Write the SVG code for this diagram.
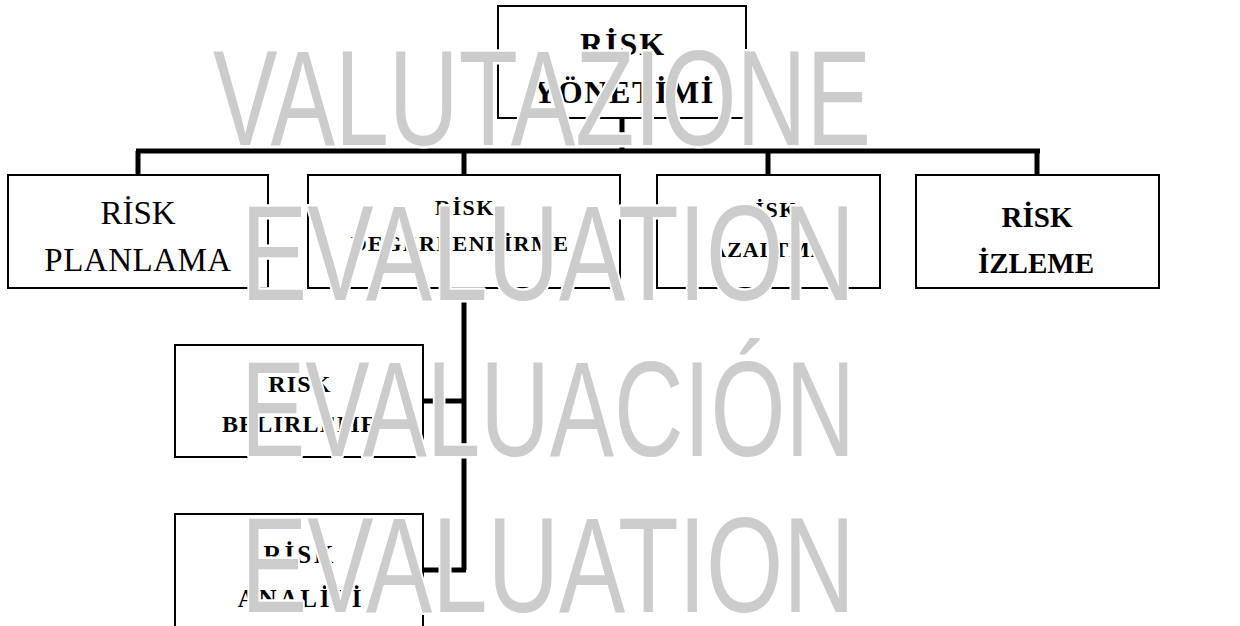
<svg xmlns="http://www.w3.org/2000/svg" width="1240" height="626" viewBox="0 0 1240 626">
<style>
.box{fill:#fff;stroke:#000;stroke-width:2}
.conn{fill:none;stroke:#000;stroke-width:5}
.t{font-family:"Liberation Serif","Times New Roman",serif;fill:#000;text-anchor:middle}
.b{font-weight:bold}
.wm{font-family:"Liberation Sans",Arial,sans-serif;font-size:135px;fill:#cccccc;stroke:#fff;stroke-width:5;paint-order:stroke;stroke-linejoin:round}
</style>
<rect width="1240" height="626" fill="#fff"/>
<g id="connectors">
<path class="conn" d="M622 118V151M136 151H1040M138 151V175M464 151V175M768 151V175M1037 151V175"/>
<path class="conn" d="M464 288V570M423 401H464M423 570H466"/>
</g>
<g id="n-top">
<rect class="box" x="498" y="6" width="248" height="112"/>
<text class="t b" x="623" y="55" font-size="32" letter-spacing="2">RİSK</text>
<text class="t b" x="624" y="103" font-size="32" letter-spacing="1.6">YÖNETİMİ</text>
</g>
<g id="n-planlama">
<rect class="box" x="8" y="175" width="260" height="113"/>
<text class="t" x="138" y="224" font-size="33">RİSK</text>
<text class="t" x="138" y="271" font-size="33" letter-spacing="0.5">PLANLAMA</text>
</g>
<g id="n-degerlendirme">
<rect class="box" x="308" y="175" width="312" height="113"/>
<text class="t b" x="465" y="215" font-size="22" letter-spacing="1.5">RİSK</text>
<text class="t b" x="460" y="251" font-size="22" letter-spacing="1.5">DEĞERLENDİRME</text>
</g>
<g id="n-azaltma">
<rect class="box" x="657" y="175" width="223" height="113"/>
<text class="t b" x="768" y="217" font-size="22" letter-spacing="1.5">RİSK</text>
<text class="t b" x="769" y="257" font-size="22" letter-spacing="1">AZALTMA</text>
</g>
<g id="n-izleme">
<rect class="box" x="916" y="175" width="243" height="113"/>
<text class="t b" x="1037" y="227" font-size="29">RİSK</text>
<text class="t b" x="1036" y="273" font-size="29">İZLEME</text>
</g>
<g id="n-belirleme">
<rect class="box" x="175" y="345" width="248" height="112"/>
<text class="t b" x="300" y="392" font-size="24" letter-spacing="1.2">RISK</text>
<text class="t b" x="300" y="432" font-size="24" letter-spacing="1.2">BELIRLEME</text>
</g>
<g id="n-analizi">
<rect class="box" x="175" y="514" width="248" height="130"/>
<text class="t b" x="300" y="563" font-size="25" letter-spacing="3">RİSK</text>
<text class="t b" x="301" y="607" font-size="25" letter-spacing="2.8">ANALİZİ</text>
</g>
<g id="watermark">
<text class="wm" x="213" y="145" textLength="658" lengthAdjust="spacingAndGlyphs">VALUTAZIONE</text>
<text class="wm" x="241" y="300" textLength="614" lengthAdjust="spacingAndGlyphs">EVALUATION</text>
<text class="wm" x="241" y="456" textLength="614" lengthAdjust="spacingAndGlyphs">EVALUACIÓN</text>
<text class="wm" x="241" y="612" textLength="614" lengthAdjust="spacingAndGlyphs">EVALUATION</text>
</g>
</svg>
